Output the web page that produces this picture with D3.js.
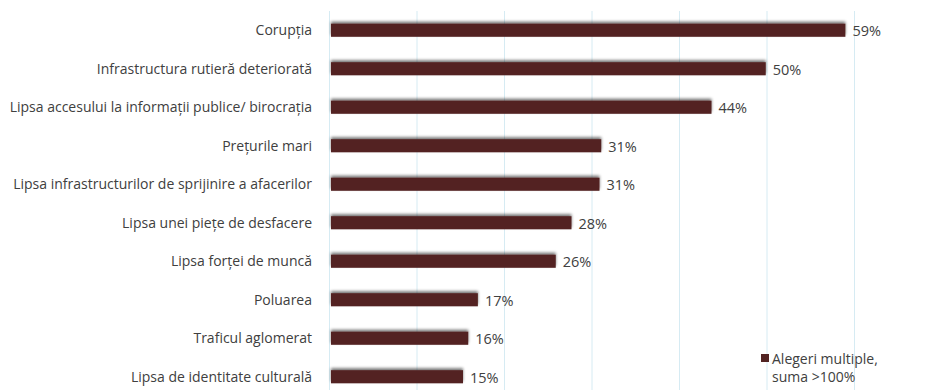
<!DOCTYPE html>
<meta charset="utf-8">
<script src="https://d3js.org/d3.v7.min.js"></script>
<style>
  body { margin: 0; background: #fff; }
  svg { display: block; font-family: "Open Sans", sans-serif; }
  .lbl { font-size: 14px; fill: #404040; }
  .val { font-size: 14.5px; fill: #404040; }
  .leg { font-size: 14px; fill: #404040; }
</style>
<body>
<div id="chart"></div>
<script>
var categories = [
  "Corupția",
  "Infrastructura rutieră deteriorată",
  "Lipsa accesului la informații publice/ birocrația",
  "Prețurile mari",
  "Lipsa infrastructurilor de sprijinire a afacerilor",
  "Lipsa unei piețe de desfacere",
  "Lipsa forței de muncă",
  "Poluarea",
  "Traficul aglomerat",
  "Lipsa de identitate culturală"
];
var values = [58.9, 49.8, 43.6, 31.0, 30.8, 27.6, 25.8, 16.9, 15.8, 15.2];
var xTicks = [0, 10, 20, 30, 40, 50, 60];
var legendLines = ["Alegeri multiple,", "suma >100%"];

var W = 931, H = 390;
var margin = {top: 11, left: 330, right: 76, bottom: -6};

var svg = d3.select("#chart").append("svg")
  .attr("width", W).attr("height", H);

var defs = svg.append("defs");
var f = defs.append("filter").attr("id", "shadow")
  .attr("x", "-5%").attr("y", "-60%").attr("width", "110%").attr("height", "200%");
f.append("feGaussianBlur").attr("in", "SourceAlpha").attr("stdDeviation", 1.6).attr("result", "b");
f.append("feOffset").attr("in", "b").attr("dx", 0).attr("dy", -2).attr("result", "o");
f.append("feComponentTransfer").attr("in", "o").attr("result", "s")
  .append("feFuncA").attr("type", "linear").attr("slope", 0.55);
var m = f.append("feMerge");
m.append("feMergeNode").attr("in", "s");
m.append("feMergeNode").attr("in", "SourceGraphic");

var x = d3.scaleLinear().domain([0, 60]).range([margin.left, W - margin.right]);
var y = d3.scaleBand().domain(categories).range([margin.top, H - margin.bottom]).paddingInner(0.66).paddingOuter(0.33);

// gridlines
svg.append("g").selectAll("line").data(xTicks).join("line")
  .attr("x1", d => x(d) - 0.5).attr("x2", d => x(d) - 0.5)
  .attr("y1", margin.top).attr("y2", H)
  .attr("stroke", "#d6ebf3").attr("stroke-width", 1);

// bars
svg.append("g").selectAll("rect").data(values).join("rect")
  .attr("x", x(0) + 1)
  .attr("y", (d, i) => y(categories[i]))
  .attr("width", d => x(d) - x(0) - 1)
  .attr("height", y.bandwidth())
  .attr("fill", "#522322")
  .attr("filter", "url(#shadow)");

// category labels
svg.append("g").selectAll("text").data(categories).join("text")
  .attr("class", "lbl")
  .attr("x", 312)
  .attr("y", d => y(d) + y.bandwidth() / 2)
  .attr("dy", "0.35em")
  .attr("text-anchor", "end")
  .text(d => d);

// value labels
svg.append("g").selectAll("text").data(values).join("text")
  .attr("class", "val")
  .attr("x", d => x(d) + 7)
  .attr("y", (d, i) => y(categories[i]) + y.bandwidth() / 2)
  .attr("dy", "0.4em")
  .text(d => Math.round(d) + "%");

// legend
var leg = svg.append("g").attr("transform", "translate(761,354)");
leg.append("rect").attr("width", 8).attr("height", 8).attr("fill", "#522322");
leg.selectAll("text").data(legendLines).join("text")
  .attr("class", "leg")
  .attr("x", 11)
  .attr("y", (d, i) => 10 + i * 18)
  .text(d => d);
</script>
</body>
